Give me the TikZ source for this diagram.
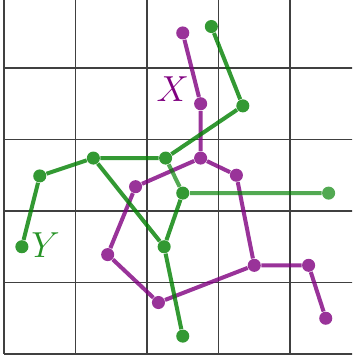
\documentclass[tikz,border=0pt]{standalone}
\usetikzlibrary{positioning}
\definecolor{xviolet}{RGB}{128,0,128}
\definecolor{ygreen}{RGB}{0,128,0}

\begin{document}
\begin{tikzpicture}[font=\Large,
  gridline/.style={draw=black!75,line width=0.6pt},
  xdot/.style={circle,fill=xviolet,fill opacity=0.8,inner sep=0pt,minimum size=5.2pt},
  ydot/.style={circle,fill=ygreen,fill opacity=0.8,inner sep=0pt,minimum size=5.2pt},
  xedge/.style={draw=xviolet,draw opacity=0.8,line width=1.6pt},
  yedge/.style={draw=ygreen,draw opacity=0.8,line width=1.6pt},
  ylight/.style={draw=ygreen,draw opacity=0.68,line width=1.6pt}]
\useasboundingbox (-0.056,-0.084) rectangle (4.867,4.951);
\clip (-0.056,-0.084) rectangle (4.867,4.951);
\draw[gridline] (0,0) grid (5,5);
% chain X
\node[xdot] (x1) at (2.50,4.49) {};
\node[xdot] (x2) at (2.75,3.50) {};
\node[xdot] (x3) at (2.75,2.74) {};
\node[xdot] (x4) at (3.25,2.50) {};
\node[xdot] (x5) at (1.84,2.34) {};
\node[xdot] (x6) at (1.45,1.39) {};
\node[xdot] (x7) at (2.16,0.72) {};
\node[xdot] (x8) at (3.50,1.24) {};
\node[xdot] (x9) at (4.26,1.24) {};
\node[xdot] (x10) at (4.50,0.50) {};
% chain Y
\node[ydot] (y1) at (2.90,4.58) {};
\node[ydot] (y2) at (3.34,3.47) {};
\node[ydot] (y3) at (2.26,2.74) {};
\node[ydot] (y4) at (1.25,2.74) {};
\node[ydot] (y5) at (0.50,2.49) {};
\node[ydot] (y6) at (0.25,1.50) {};
\node[ydot] (y7) at (2.50,2.25) {};
\node[ydot,fill opacity=0.68] (y8) at (4.54,2.25) {};
\node[ydot] (y9) at (2.24,1.50) {};
\node[ydot] (y10) at (2.50,0.25) {};
\draw[xedge] (x1) -- (x2) -- (x3) -- (x4) -- (x8) -- (x9) -- (x10);
\draw[xedge] (x3) -- (x5) -- (x6) -- (x7) -- (x8);
\draw[yedge] (y1) -- (y2) -- (y3) -- (y4) -- (y5) -- (y6);
\draw[yedge] (y4) -- (y9) -- (y10);
\draw[yedge] (y7) -- (y9);
\draw[ylight] (y3) -- (y7) -- (y8);
\node[text=xviolet] (xlab) at (2.36,3.70) {$X$};
\node[text=ygreen!85] (ylab) at (0.58,1.52) {$Y$};
\end{tikzpicture}
\end{document}
